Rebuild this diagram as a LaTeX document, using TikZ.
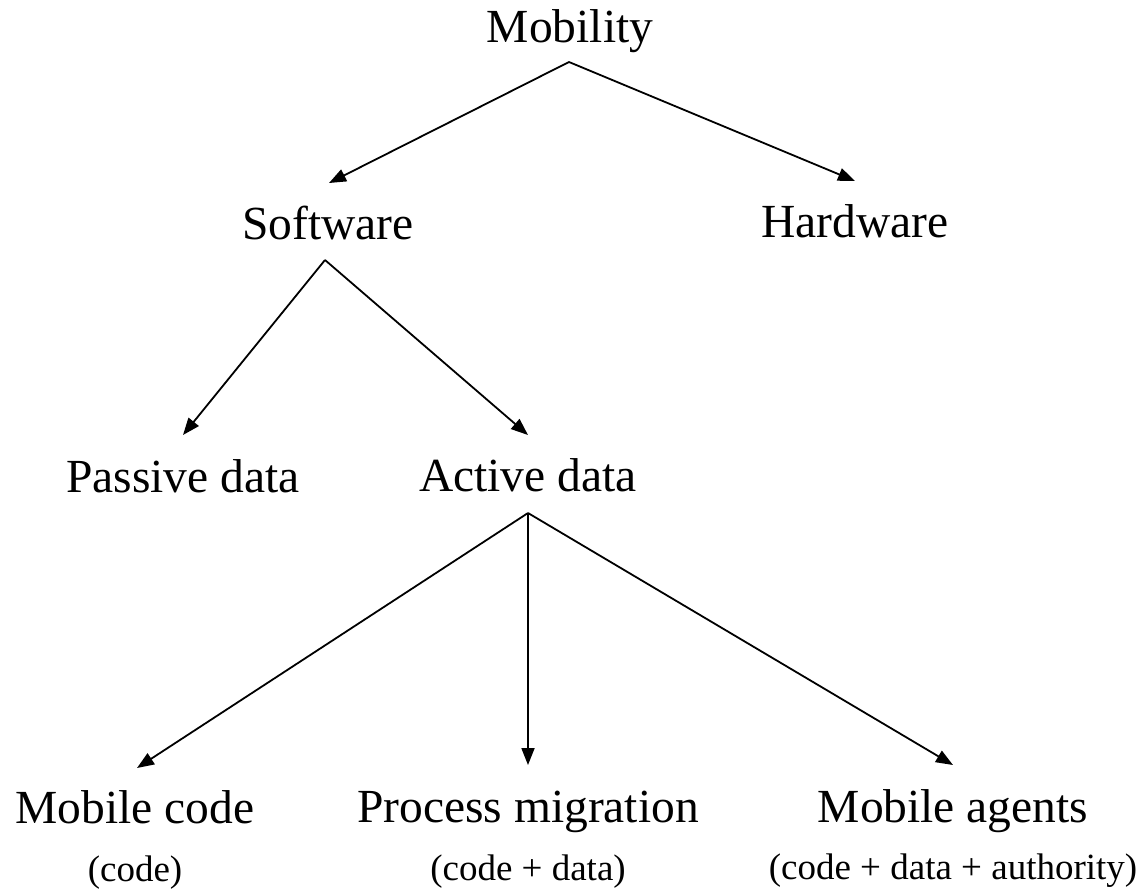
\documentclass[tikz,border=0pt]{standalone}
\usepackage{fontspec}
\setmainfont{Liberation Serif}
\usetikzlibrary{arrows.meta}
\begin{document}
\begin{tikzpicture}[x=1pt,y=-1pt,
  big/.style={font=\fontsize{47.5}{57}\selectfont, anchor=base, inner sep=0pt},
  small/.style={font=\fontsize{37}{44}\selectfont, anchor=base, inner sep=0pt},
  link/.style={line width=1.8pt, -{Triangle[length=17pt,width=13pt]}}]
\useasboundingbox (0,0) rectangle (1143,889);
% labels
\node[big] (mob) at (570,42) {Mobility};
\node[big] (sw) at (328,239) {Software};
\node[big] (hw) at (855,237) {Hardware};
\node[big] (pd) at (183,492) {Passive data};
\node[big] (ad) at (528,491) {Active data};
\node[big] (mc) at (135,823) {Mobile code};
\node[big] (pm) at (528,822) {Process migration};
\node[big] (ma) at (953,822) {Mobile agents};
\node[small] (mcs) at (135,881) {(code)};
\node[small] (pms) at (528,880) {(code + data)};
\node[small] (mas) at (953,879) {(code + data + authority)};
% connector ends
\coordinate (mobout) at (569,62);
\coordinate (swin) at (329,183);
\coordinate (hwin) at (855,181);
\coordinate (swout) at (325,260);
\coordinate (pdin) at (183,435);
\coordinate (adin) at (528,435);
\coordinate (adout) at (528,513);
\coordinate (mcin) at (137,768);
\coordinate (pmin) at (528,765);
\coordinate (main) at (953,765);
% connectors
\draw[link] (mobout) -- (swin);
\draw[link] (mobout) -- (hwin);
\draw[link] (swout) -- (pdin);
\draw[link] (swout) -- (adin);
\draw[link] (adout) -- (mcin);
\draw[link] (adout) -- (pmin);
\draw[link] (adout) -- (main);
\end{tikzpicture}
\end{document}
